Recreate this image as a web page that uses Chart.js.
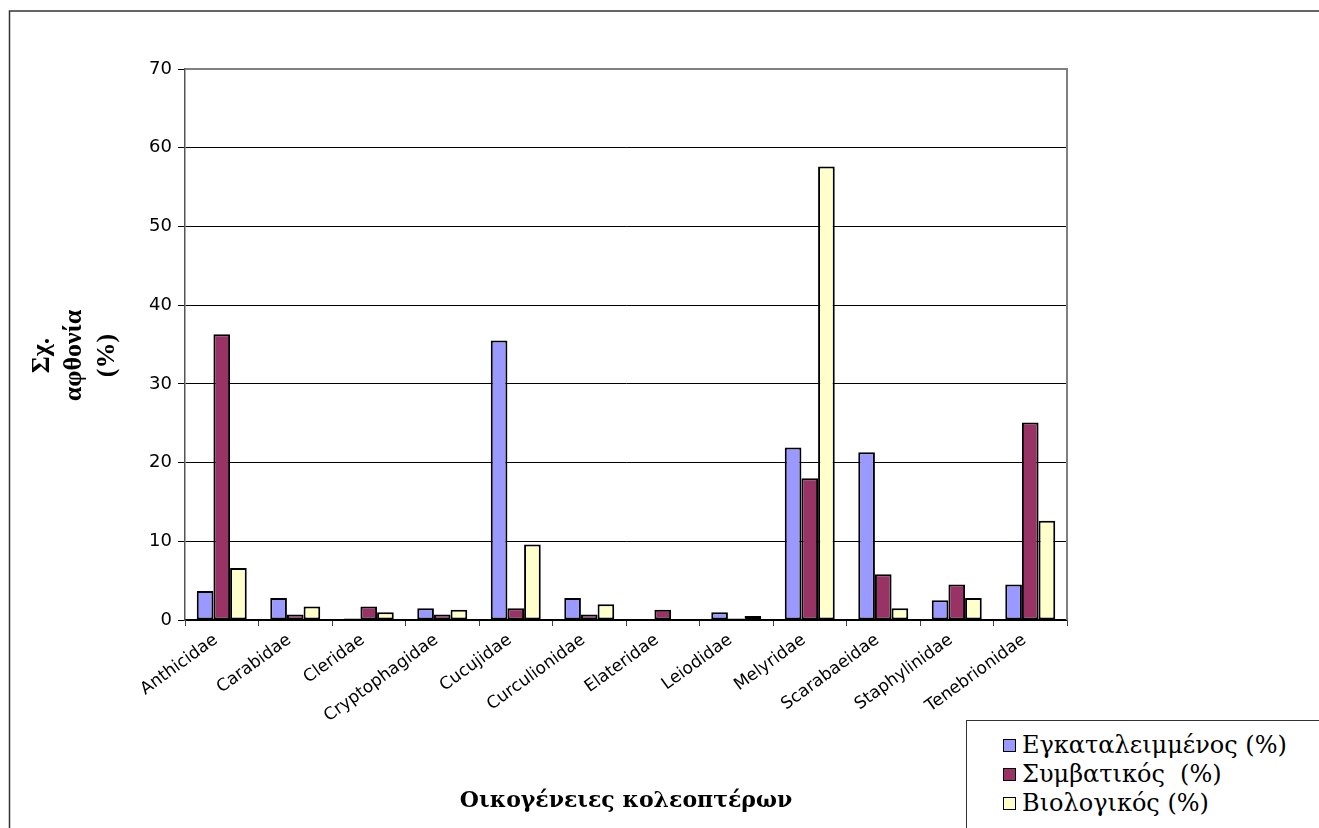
<!DOCTYPE html>
<html>
<head>
<meta charset="utf-8">
<script src="https://cdn.jsdelivr.net/npm/chart.js@4.4.1/dist/chart.umd.min.js"></script>
<style>
  html, body { margin: 0; padding: 0; background: #fff; }
  #wrap { position: relative; width: 1319px; height: 828px; overflow: hidden; }
  #legend {
    position: absolute; left: 966px; top: 720px; width: 400px; height: 130px;
    border: 1.5px solid #333; background: #fff; box-sizing: border-box;
    padding: 10px 0 0 36px;
    font-family: "DejaVu Serif", "Liberation Serif", serif; font-size: 24px; color: #000;
  }
  #legend .item { height: 29px; line-height: 29px; white-space: pre; display: flex; align-items: center; }
  #legend .sw { width: 11px; height: 11px; border: 1.5px solid #000; margin-right: 6px; flex: none; }
</style>
</head>
<body>
<div id="wrap">
  <canvas id="c" width="1319" height="828"></canvas>
  <div id="legend"></div>
</div>
<script>
const categories = ['Anthicidae','Carabidae','Cleridae','Cryptophagidae','Cucujidae','Curculionidae','Elateridae','Leiodidae','Melyridae','Scarabaeidae','Staphylinidae','Tenebrionidae'];
const seriesNames = ['Εγκαταλειμμένος (%)', 'Συμβατικός  (%)', 'Βιολογικός (%)'];
const abandoned    = [3.7, 2.8, 0.2, 1.5, 35.5, 2.8, 0, 1.0, 21.9, 21.3, 2.5, 4.5];
const conventional = [36.3, 0.7, 1.7, 0.7, 1.5, 0.7, 1.3, 0.2, 18.0, 5.8, 4.5, 25.1];
const organic      = [6.6, 1.7, 1.0, 1.3, 9.6, 2.0, 0, 0.5, 57.6, 1.5, 2.8, 12.6];
const yTicks = [0, 10, 20, 30, 40, 50, 60, 70];
const yTitleLines = ['Σχ.', 'αφθονία', '(%)'];
const xTitle = 'Οικογένειες κολεοπτέρων';
const colors = ['#9999FF', '#993366', '#FFFFCC'];

const framePlugin = {
  id: 'frame',
  afterDraw(chart) {
    const ctx = chart.ctx, a = chart.chartArea;
    ctx.save();
    // outer chart frame (left & top edges visible)
    ctx.strokeStyle = '#333'; ctx.lineWidth = 1.5;
    ctx.beginPath(); ctx.moveTo(9.5, 840); ctx.lineTo(9.5, 11); ctx.lineTo(1330, 11); ctx.stroke();
    // plot-area border (gray, top & right)
    ctx.strokeStyle = '#808080'; ctx.lineWidth = 2;
    ctx.beginPath(); ctx.moveTo(a.left, a.top); ctx.lineTo(a.right, a.top); ctx.lineTo(a.right, a.bottom); ctx.stroke();
    // y-axis title, three lines rotated
    ctx.fillStyle = '#000';
    ctx.font = 'bold 26px "Liberation Serif", "Times New Roman", serif';
    ctx.textAlign = 'center'; ctx.textBaseline = 'middle';
    const cy = (a.top + a.bottom) / 2 + 11;
    yTitleLines.forEach((t, i) => {
      ctx.save();
      ctx.translate(42 + i * 32.5, cy);
      ctx.rotate(-Math.PI / 2);
      ctx.fillText(t, 0, 0);
      ctx.restore();
    });
    ctx.restore();
  }
};

const sers = [abandoned, conventional, organic];
const chart = new Chart(document.getElementById('c'), {
  type: 'bar',
  data: {
    labels: categories,
    datasets: sers.map((d, i) => ({
      label: seriesNames[i], data: d,
      backgroundColor: colors[i], borderColor: '#000', borderWidth: 2, borderSkipped: false,
      inflateAmount: 0, categoryPercentage: 0.68, barPercentage: 1.0
    }))
  },
  options: {
    responsive: false, animation: false, devicePixelRatio: 1,
    layout: { padding: { top: 69, right: 252, left: 0, bottom: 0 } },
    plugins: { legend: { display: false }, tooltip: { enabled: false } },
    scales: {
      x: {
        afterFit(s) { s.height = 208; },
        grid: { drawOnChartArea: false, tickLength: 6, color: '#444', offset: true },
        border: { color: '#000', width: 1.5 },
        ticks: { color: '#000', minRotation: 36, maxRotation: 36, autoSkip: false, padding: 4, labelOffset: -6,
                 font: { family: 'DejaVu Sans, Liberation Sans, Arial', size: 17 } },
        title: { display: true, text: xTitle, color: '#000',
                 font: { family: 'DejaVu Serif, Liberation Serif', size: 22, weight: 'bold' },
                 padding: { top: 0, bottom: 14 } }
      },
      y: {
        min: 0, max: 70,
        afterFit(s) { s.width = 185; },
        afterBuildTicks(s) { s.ticks = yTicks.map(v => ({ value: v })); },
        grid: { color: '#000', lineWidth: 1, tickLength: 7 },
        border: { color: '#555', width: 1.5 },
        ticks: { color: '#000', padding: 6, font: { family: 'DejaVu Sans, Liberation Sans, Arial', size: 18 } },
        title: { display: false }
      }
    }
  },
  plugins: [framePlugin]
});

const lg = document.getElementById('legend');
chart.data.datasets.forEach(ds => {
  const it = document.createElement('div'); it.className = 'item';
  const sw = document.createElement('span'); sw.className = 'sw'; sw.style.background = ds.backgroundColor;
  it.appendChild(sw); it.appendChild(document.createTextNode(ds.label));
  lg.appendChild(it);
});
</script>
</body>
</html>
